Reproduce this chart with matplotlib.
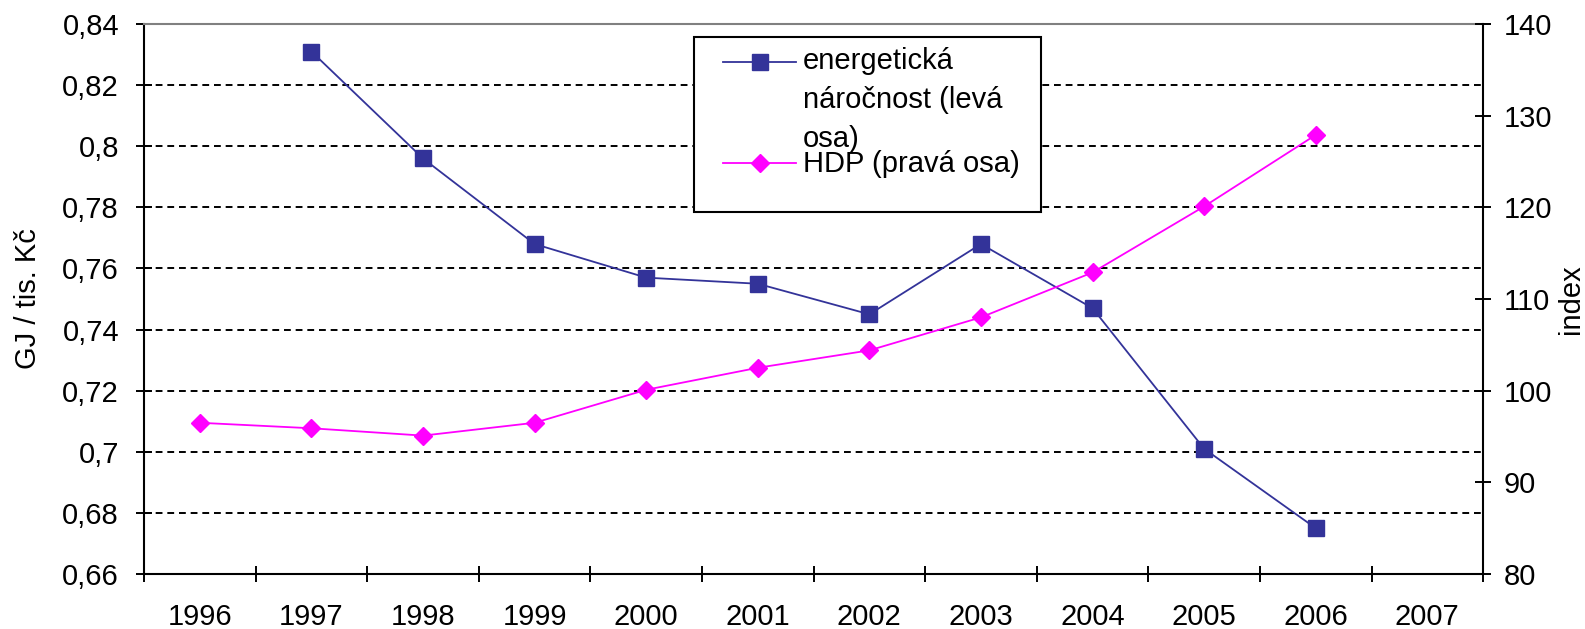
import numpy as np
import matplotlib
matplotlib.use("Agg")
import matplotlib.pyplot as plt
from matplotlib.lines import Line2D
from matplotlib.patches import Rectangle
from matplotlib.ticker import FixedLocator, FuncFormatter, NullFormatter

plt.rcParams['font.family'] = ['Liberation Sans', 'DejaVu Sans']

# data
years = ['1996', '1997', '1998', '1999', '2000', '2001', '2002', '2003', '2004', '2005', '2006', '2007']
energy = [np.nan, 0.831, 0.796, 0.768, 0.757, 0.755, 0.745, 0.768, 0.747, 0.701, 0.675, np.nan]
hdp = [96.5, 95.9, 95.1, 96.5, 100.1, 102.5, 104.4, 108.0, 112.9, 120.1, 127.9, np.nan]

left_ticks = [0.66, 0.68, 0.70, 0.72, 0.74, 0.76, 0.78, 0.80, 0.82, 0.84]
right_ticks = [80, 90, 100, 110, 120, 130, 140]

label_energy = 'energetická\nnáročnost (levá\nosa)'
label_hdp = 'HDP (pravá osa)'

blue = '#333399'
magenta = '#FF00FF'
fs = 21

fig = plt.figure(figsize=(15.85, 6.29), dpi=100)
ax = fig.add_axes([0.0909, 0.0874, 0.8448, 0.8744])
ax2 = ax.twinx()

x = np.arange(len(years))
ax.plot(x, energy, color=blue, lw=1.3, marker='s', ms=12, mfc=blue, mec=blue, zorder=3)
ax2.plot(x, hdp, color=magenta, lw=1.3, marker='D', ms=9, mfc=magenta, mec=magenta, zorder=3)

ax.set_xlim(-0.5, len(years) - 0.5)
ax.set_ylim(left_ticks[0], left_ticks[-1])
ax2.set_ylim(right_ticks[0], right_ticks[-1])

# category ticks between years, labels centred on years
ax.xaxis.set_major_locator(FixedLocator(np.arange(len(years) + 1) - 0.5))
ax.xaxis.set_major_formatter(NullFormatter())
ax.xaxis.set_minor_locator(FixedLocator(x))
ax.xaxis.set_minor_formatter(FuncFormatter(lambda v, p: years[int(round(v))]))
ax.tick_params(axis='x', which='major', direction='inout', length=12, width=1.4)
ax.tick_params(axis='x', which='minor', length=0, pad=21, labelsize=fs)

ax.set_yticks(left_ticks)
ax.yaxis.set_major_formatter(FuncFormatter(lambda v, p: f'{v:g}'.replace('.', ',')))
ax.tick_params(axis='y', direction='inout', length=12, width=1.4, pad=12, labelsize=fs)

ax2.set_yticks(right_ticks)
ax2.tick_params(axis='y', direction='inout', length=12, width=1.4, pad=9, labelsize=fs)

# dashed gridlines on the inner left ticks
for v in left_ticks[1:-1]:
    ax.axhline(v, color='black', lw=1.4, ls=(0, (3.5, 2.5)), zorder=1)

for a in (ax, ax2):
    for s in a.spines.values():
        s.set_linewidth(1.5)
ax.spines['top'].set_color('#808080')
ax.spines['right'].set_visible(False)
ax2.spines['top'].set_visible(False)
ax2.spines['left'].set_visible(False)
ax2.spines['bottom'].set_visible(False)

ax.set_ylabel('GJ / tis. Kč', fontsize=fs)
ax.yaxis.set_label_coords(-0.076, 0.5)
ax2.set_ylabel('index', fontsize=fs)
ax2.yaxis.set_label_coords(1.0553, 0.5)

# legend drawn by hand so the handle sits on the first line of the label
W, H = 1585.0, 629.0
fig.add_artist(Rectangle((694 / W, 1 - 212 / H), 347 / W, 175 / H, transform=fig.transFigure,
                         facecolor='white', edgecolor='black', lw=1.5, zorder=5))
fig.add_artist(Line2D([723 / W, 796 / W], [1 - 62 / H] * 2, transform=fig.transFigure,
                      color=blue, lw=1.3, zorder=6))
fig.add_artist(Line2D([759.5 / W], [1 - 62 / H], transform=fig.transFigure, color=blue,
                      marker='s', ms=12, mfc=blue, mec=blue, zorder=6))
fig.add_artist(Line2D([723 / W, 796 / W], [1 - 163 / H] * 2, transform=fig.transFigure,
                      color=magenta, lw=1.3, zorder=6))
fig.add_artist(Line2D([759.5 / W], [1 - 163 / H], transform=fig.transFigure, color=magenta,
                      marker='D', ms=9, mfc=magenta, mec=magenta, zorder=6))
fig.text(803 / W, 1 - 47 / H, label_energy, fontsize=fs, va='top', ha='left',
         linespacing=1.5, zorder=7)
fig.text(803 / W, 1 - 172 / H, label_hdp, fontsize=fs, va='baseline', ha='left', zorder=7)

fig.savefig('out.png', dpi=100)
